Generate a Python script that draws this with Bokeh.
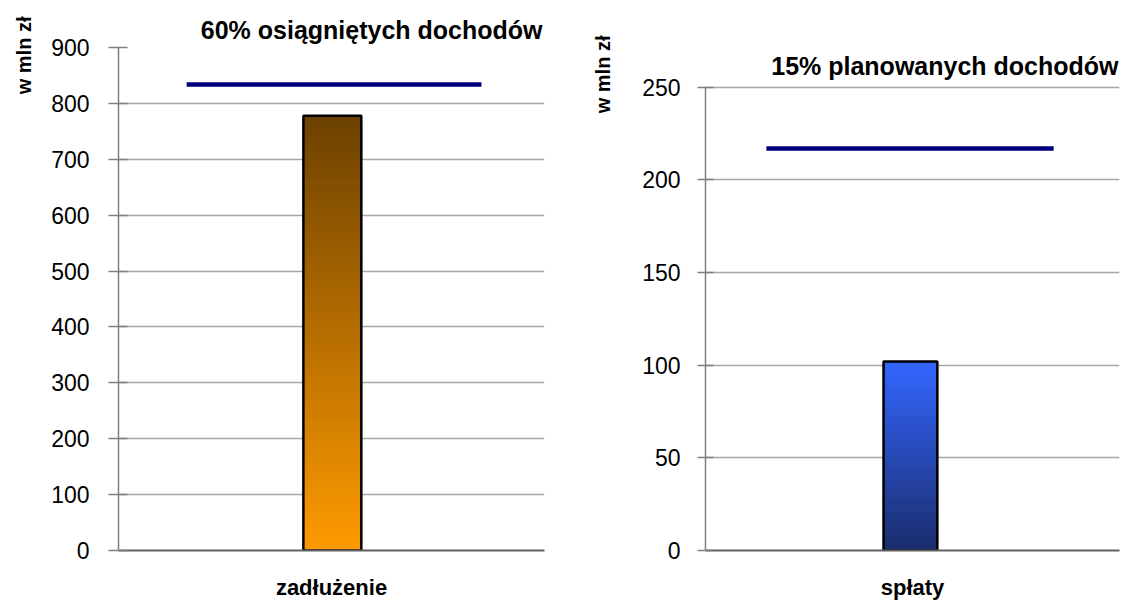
import math
from bokeh.plotting import figure
from bokeh.layouts import row
from bokeh.models import FactorRange, Range1d, FixedTicker, Label, ColumnDataSource, Title
from bokeh.transform import dodge
from bokeh.embed import file_html
from bokeh.resources import INLINE

# ---- data ----
left_categories = ["zadłużenie"]
left_values = [778]          # zadłużenie, mln zł
left_limit = [834]           # 60% osiągniętych dochodów
left_ticks = [0, 100, 200, 300, 400, 500, 600, 700, 800, 900]
left_title = "60% osiągniętych dochodów"

right_categories = ["spłaty"]
right_values = [102]         # spłaty, mln zł
right_limit = [217]          # 15% planowanych dochodów
right_ticks = [0, 50, 100, 150, 200, 250]
right_title = "15% planowanych dochodów"

y_label = "w mln zł"
FONT = "Liberation Sans"
H = 602
MB_TOP = 47
MB_BOTTOM = H - 552


def lerp_color(c_bottom, c_top, t):
    a = [int(c_bottom[i:i + 2], 16) for i in (1, 3, 5)]
    b = [int(c_top[i:i + 2], 16) for i in (1, 3, 5)]
    return "#%02x%02x%02x" % tuple(round(a[k] + (b[k] - a[k]) * t) for k in range(3))


def panel(cats, vals, limits, ticks, width, mb_left, mb_right, y_end,
          bar_w, bar_off, line_off0, line_off1, c_bottom, c_top, tick_in, tick_out,
          lbl_standoff, ylab_standoff, ylab_offset):
    p = figure(width=width, height=H, x_range=FactorRange(factors=cats, range_padding=0),
               y_range=Range1d(0, y_end), output_backend="svg",
               toolbar_location=None, min_border_left=mb_left, min_border_right=mb_right,
               min_border_top=MB_TOP, min_border_bottom=MB_BOTTOM)
    p.outline_line_color = None
    p.background_fill_color = "white"
    p.border_fill_color = "white"

    # gradient bar: nested bars, tallest first, each showing its own top slice
    N = 120
    for c, v in zip(cats, vals):
        tops = [v * (k + 1) / N for k in range(N)][::-1]
        colors = [lerp_color(c_bottom, c_top, (k + 0.5) / N) for k in range(N)][::-1]
        src = ColumnDataSource(dict(x=[c] * N, t=tops, col=colors))
        p.vbar(x=dodge("x", bar_off, range=p.x_range), bottom=0, top="t", width=bar_w,
               source=src, fill_color="col", line_color=None)
    src = ColumnDataSource(dict(x=cats, v=vals, lim=limits))
    p.vbar(x=dodge("x", bar_off, range=p.x_range), top="v", bottom=0, width=bar_w, source=src,
           fill_color=None, line_color="black", line_width=2.5)
    p.segment(x0=dodge("x", line_off0, range=p.x_range), y0="lim",
              x1=dodge("x", line_off1, range=p.x_range), y1="lim", source=src,
              line_color="#00007f", line_width=4.5)

    # axes
    ya = p.yaxis[0]
    ya.ticker = FixedTicker(ticks=ticks)
    ya.bounds = (ticks[0], ticks[-1])
    ya.minor_tick_line_color = None
    ya.axis_line_color = "#7f7f7f"
    ya.axis_line_width = 1.5
    ya.major_tick_line_color = "#7f7f7f"
    ya.major_tick_line_width = 1.5
    ya.major_tick_in = tick_in
    ya.major_tick_out = tick_out
    ya.major_label_text_font = FONT
    ya.major_label_text_font_size = "23px"
    ya.major_label_text_color = "black"
    ya.major_label_standoff = lbl_standoff

    xa = p.xaxis[0]
    xa.major_tick_line_color = None
    xa.major_tick_out = 0
    xa.major_tick_in = 0
    xa.minor_tick_line_color = None
    xa.axis_line_color = "#606060"
    xa.axis_line_width = 2
    xa.major_label_text_font = FONT
    xa.major_label_text_font_size = "22px"
    xa.major_label_text_font_style = "bold"
    xa.major_label_text_color = "black"
    xa.major_label_standoff = 24

    p.xgrid.grid_line_color = None
    p.ygrid.ticker = FixedTicker(ticks=ticks[1:])
    p.ygrid.grid_line_color = "#a6a6a6"
    p.ygrid.grid_line_width = 1.5

    # vertical axis caption as a left-side title, aligned to the top
    p.add_layout(Title(text=y_label, align="right", offset=ylab_offset, standoff=ylab_standoff,
                       vertical_align="top",
                       text_font=FONT, text_font_size="20px", text_font_style="bold",
                       text_color="black"), "left")
    return p


p1 = panel(left_categories, left_values, left_limit, left_ticks,
           width=561, mb_left=118, mb_right=17, y_end=900,
           bar_w=0.136, bar_off=0.002, line_off0=-0.340, line_off1=0.352,
           c_bottom="#ff9a00", c_top="#6c4100", tick_in=9, tick_out=10,
           lbl_standoff=19, ylab_standoff=24, ylab_offset=-31)
p1.title.text = left_title
p1.title.align = "right"
p1.title.offset = 2
p1.title.standoff = 8
p1.title.text_font = FONT
p1.title.text_font_size = "25px"
p1.title.text_font_style = "bold"
p1.title.text_color = "black"

p2 = panel(right_categories, right_values, right_limit, right_ticks,
           width=561, mb_left=144, mb_right=3, y_end=271.5,
           bar_w=0.130, bar_off=-0.005, line_off0=-0.353, line_off1=0.341,
           c_bottom="#1b2d6c", c_top="#3366ff", tick_in=8, tick_out=8,
           lbl_standoff=17, ylab_standoff=48, ylab_offset=-12)
# right title sits inside the (taller) frame, positioned in frame-relative pixels
p2.add_layout(Label(x=413, y=552 - 67, x_units="screen", y_units="screen", text=right_title,
                    text_align="right", text_baseline="alphabetic",
                    text_font=FONT, text_font_size="25px", text_font_style="bold",
                    text_color="black"))

layout = row(p1, p2)
open("out.html", "w").write(file_html(layout, INLINE))
